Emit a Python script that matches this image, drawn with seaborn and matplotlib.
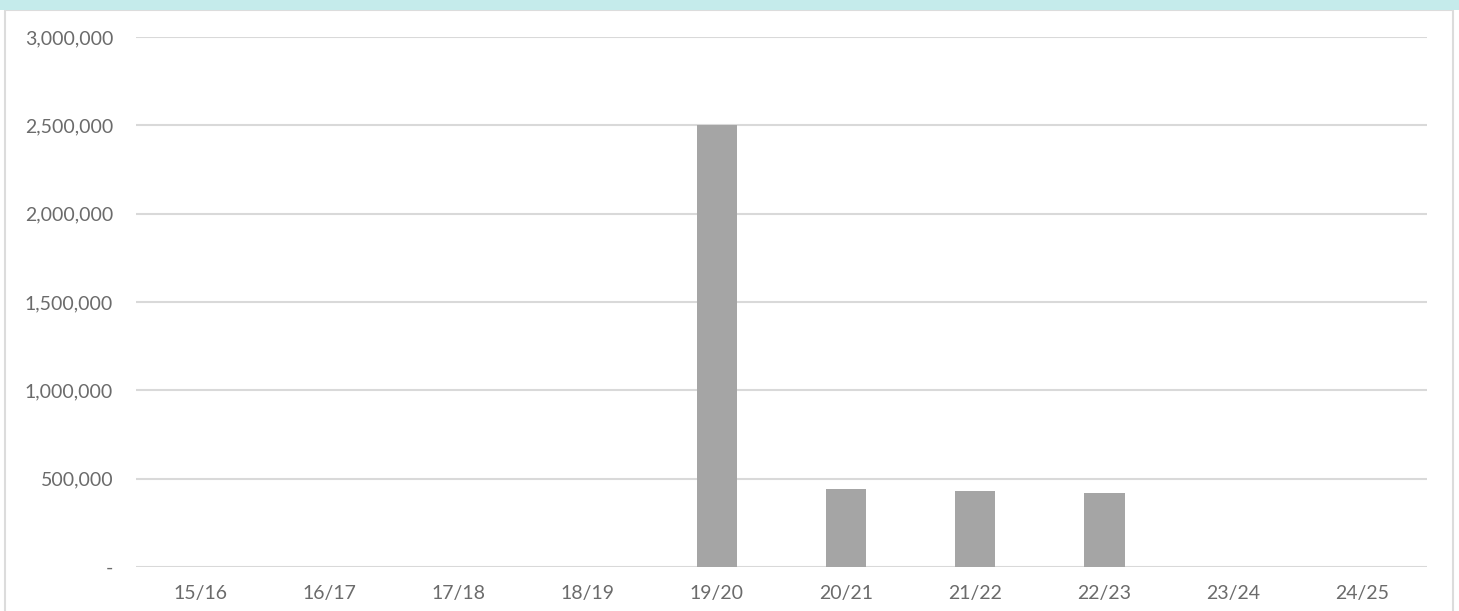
import matplotlib
matplotlib.use("Agg")
import matplotlib.pyplot as plt
import matplotlib.ticker as mticker
from matplotlib.patches import Rectangle
import pandas as pd
import seaborn as sns

# data
seasons = ["15/16", "16/17", "17/18", "18/19", "19/20",
           "20/21", "21/22", "22/23", "23/24", "24/25"]
values = [0, 0, 0, 0, 2500000, 440000, 428000, 417000, 0, 0]
y_ticks = [0, 500000, 1000000, 1500000, 2000000, 2500000, 3000000]

sns.set_theme(style="white")
plt.rcParams["font.family"] = ["Lato", "DejaVu Sans"]

df = pd.DataFrame({"season": seasons, "value": values})

W, H = 1459, 611
fig = plt.figure(figsize=(W / 100, H / 100), dpi=100)
ax = fig.add_axes([136 / W, 1 - 567 / H, (1427 - 136) / W, (567 - 37) / H])
ax.set_zorder(2)

# frame + teal header band
fig.patches.append(Rectangle((5 / W, -0.01), (1453 - 5) / W, 1 - 10 / H + 0.01,
                             transform=fig.transFigure, facecolor="white",
                             edgecolor="#DCDCDC", linewidth=1.5, zorder=-1))
fig.patches.append(Rectangle((0, 1 - 10 / H), 1, 10 / H, transform=fig.transFigure,
                             facecolor="#C5EBEB", edgecolor="none", zorder=-1))

sns.barplot(data=df, x="season", y="value", color="#A5A5A5", width=0.315,
            saturation=1, edgecolor="none", ax=ax, zorder=3)

ax.set_ylim(0, 3000000)
ax.set_xlim(-0.5, len(seasons) - 0.5)
ax.set_yticks(y_ticks)
ax.yaxis.set_major_formatter(mticker.FuncFormatter(
    lambda v, p: "-" if v == 0 else f"{int(v):,}"))
ax.grid(axis="y", color="#D9D9D9", linewidth=1.5, zorder=0)
ax.set_axisbelow(True)
for s in ax.spines.values():
    s.set_visible(False)
ax.set_facecolor("none")
ax.tick_params(axis="both", length=0, labelsize=14, labelcolor="#6B6B6B")
ax.tick_params(axis="y", pad=16.5)
ax.tick_params(axis="x", pad=13)
ax.set_xlabel("")
ax.set_ylabel("")

fig.savefig("out.png", dpi=100)
